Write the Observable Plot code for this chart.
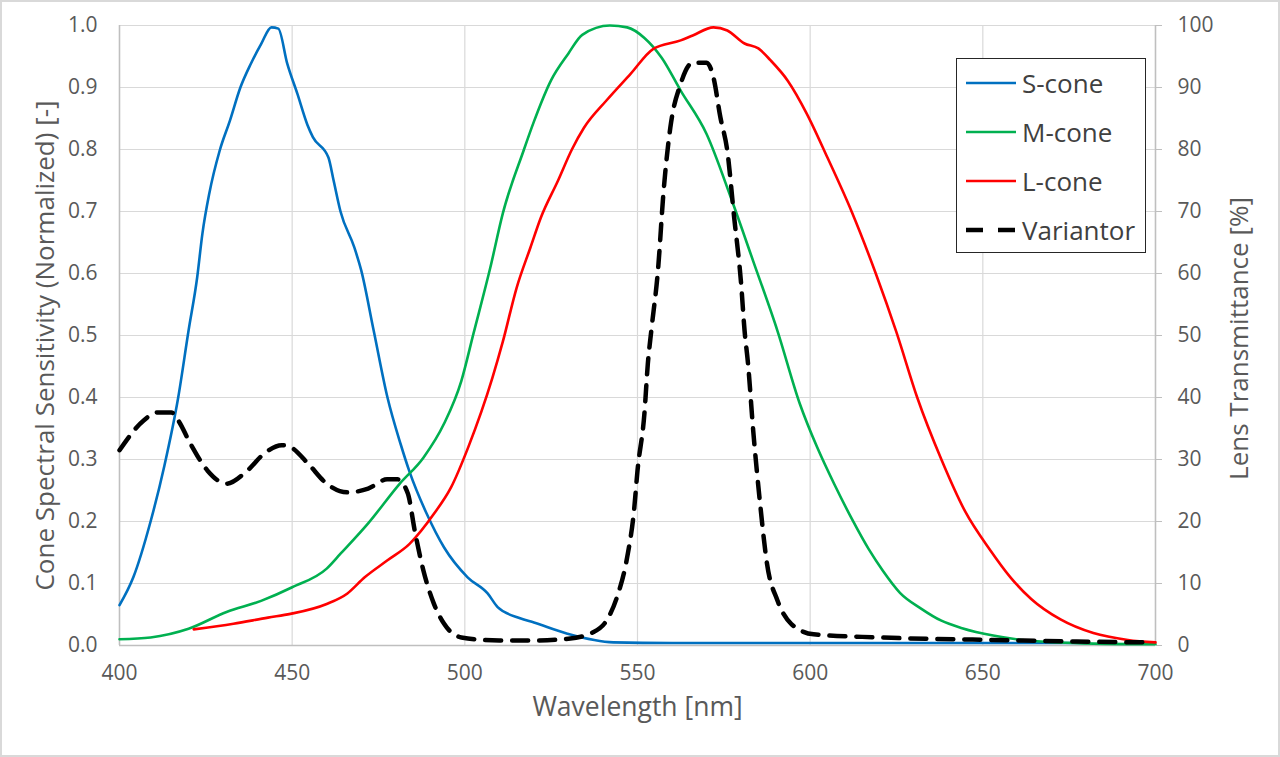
<!DOCTYPE html>
<html>
<head>
<meta charset="utf-8">
<script src="https://cdn.jsdelivr.net/npm/d3@7"></script>
<script src="https://cdn.jsdelivr.net/npm/@observablehq/plot@0.6"></script>
<style>
  html, body { margin: 0; padding: 0; background: #fff; }
  #wrap { position: relative; width: 1280px; height: 757px; overflow: hidden; font-family: "Open Sans", sans-serif; }
  #border { position: absolute; left: 0; top: 0; width: 1280px; height: 757px; box-sizing: border-box; border: 2px solid #d9d9d9; pointer-events: none; }
  #legend { position: absolute; left: 956px; top: 58px; width: 190px; height: 195px; box-sizing: border-box; border: 1.5px solid #262626; background: #fff; }
  .item { position: absolute; left: 8px; height: 30px; display: flex; align-items: center; }
  .item span { font-size: 26px; color: #404040; margin-left: 5px; line-height: 30px; }
</style>
</head>
<body>
<div id="wrap">
  <div id="chart"></div>
  <div id="legend"></div>
  <div id="border"></div>
</div>
<script>
// ---- data ----
const sWl  = [400,404,409,413,417,420,422.5,424,426,429,432,435,438,441,444,446,448.6,451.5,454.4,456,460.5,462,464,468,470,473.6,477.6,481.4,484,489,494,500.8,506.6,509.5,516,520,529.7,543,560,600,640,680];
const sVal = [0.065,0.11,0.20,0.29,0.40,0.508,0.594,0.664,0.729,0.798,0.847,0.90,0.938,0.97,0.997,0.995,0.938,0.89,0.84,0.82,0.787,0.75,0.70,0.642,0.605,0.508,0.40,0.325,0.28,0.212,0.158,0.11,0.084,0.062,0.044,0.037,0.019,0.005,0.004,0.004,0.004,0.004];

const mWl  = [400,409,420,431,441,450,460,464,472,481,488,494,499,502.5,507.4,511,517,520,525,530,534,542,547,552,557,562.5,570,577,583.5,590.5,597,602,607,612,617,621,626,632,638,644,653,663,682,700];
const mVal = [0.01,0.013,0.027,0.054,0.072,0.094,0.124,0.148,0.197,0.26,0.303,0.358,0.427,0.503,0.61,0.697,0.798,0.845,0.912,0.955,0.985,1.0,0.997,0.98,0.948,0.895,0.825,0.723,0.62,0.508,0.39,0.32,0.26,0.205,0.155,0.121,0.085,0.06,0.04,0.028,0.016,0.008,0.003,0.002];

const lWl  = [421.5,433,443,449.5,460,466,471,477.5,484,491,496,501,508,511,515,519,522,527,531,534.5,541,548,554.5,562.5,566,572,576,581,585,588.5,593.5,599,605,612,619,625,631,638,645,652,658,664,672.5,682,692,700];
const lVal = [0.026,0.035,0.045,0.051,0.067,0.084,0.11,0.137,0.164,0.212,0.255,0.32,0.432,0.49,0.577,0.642,0.69,0.75,0.80,0.835,0.879,0.922,0.962,0.976,0.984,0.997,0.992,0.971,0.963,0.944,0.911,0.858,0.787,0.70,0.60,0.505,0.40,0.30,0.215,0.155,0.11,0.075,0.042,0.02,0.009,0.005];

const vWl  = [400,407,411,415,417,420.5,425.5,431,437,442,447,449.5,454.5,460,466,472,477.5,480.5,483.5,485.5,488,491,494,499,510,520,530,537,541,544,547,549,550,552,553,554,556,557.5,559.5,562.5,566,570,572,574,576,578,580,581,582,583.5,585.5,587.5,590.5,594.5,601,620,653,682,698];
const vPct = [31.5,36.3,37.6,37.6,36.3,32.6,28.2,26.1,28.2,31,32.3,32,29.4,26.1,24.7,25.3,26.8,26.8,24.5,18.5,12.1,6.8,3.5,1.3,0.8,0.8,1.1,2.1,4,7.7,14.2,21.8,28.2,37.4,45.5,50.8,61,72.9,83.5,90.6,94,94,91.6,85.2,79.8,69,58.4,50.8,45.5,34.7,22.9,13.2,7.3,3.5,1.8,1.3,0.9,0.6,0.5];

const xTicks = [400,450,500,550,600,650,700];
const yTicks = [0,0.1,0.2,0.3,0.4,0.5,0.6,0.7,0.8,0.9,1.0];
const rightTicks = [0,10,20,30,40,50,60,70,80,90,100];

const seriesNames = ["S-cone","M-cone","L-cone","Variantor"];
const seriesColors = ["#0070C0","#00B050","#FF0000","#000000"];

const xTitle = "Wavelength [nm]";
const yTitle = "Cone Spectral Sensitivity (Normalized) [-]";
const y2Title = "Lens Transmittance [%]";

// ---- tables ----
const S = sWl.map((w,i)=>({w, v:sVal[i]}));
const M = mWl.map((w,i)=>({w, v:mVal[i]}));
const L = lWl.map((w,i)=>({w, v:lVal[i]}));
const V = vWl.map((w,i)=>({w, p:vPct[i]}));

const grid = "#d9d9d9";
const dash = "16,11";

const chart = Plot.plot({
  width: 1280,
  height: 757,
  marginLeft: 119,
  marginRight: 125,
  marginTop: 25,
  marginBottom: 112,
  style: { fontFamily: "Open Sans, sans-serif", color: "#595959", background: "transparent", overflow: "visible" },
  x: { domain: [400, 700] },
  y: { domain: [0, 1] },
  marks: [
    Plot.gridX(xTicks, { stroke: grid, strokeOpacity: 1, strokeWidth: 1.2 }),
    Plot.gridY(yTicks, { stroke: grid, strokeOpacity: 1, strokeWidth: 1.2 }),
    Plot.ruleY([0], { stroke: "#bfbfbf", strokeWidth: 1.5 }),
    Plot.ruleX([400], { stroke: "#bfbfbf", strokeWidth: 1.5 }),
    Plot.ruleX([700], { stroke: "#bfbfbf", strokeWidth: 1.5 }),
    Plot.axisX(xTicks, { tickSize: 0, tickPadding: 20, fontSize: 21, label: null, tickFormat: d => String(d) }),
    Plot.axisY(yTicks, { anchor: "left", tickSize: 0, tickPadding: 22, fontSize: 21, label: null, tickFormat: d3.format(".1f") }),
    Plot.axisY(rightTicks.map(t => t / 100), { anchor: "right", tickSize: 6, tickPadding: 16, fontSize: 21, label: null, stroke: "#bfbfbf", textStroke: null, tickFormat: d => String(Math.round(d * 100)) }),
    Plot.text([xTitle], { frameAnchor: "bottom", dy: 70, fontSize: 26.5, fill: "#595959" }),
    Plot.text([yTitle], { frameAnchor: "left", textAnchor: "middle", rotate: -90, dx: -74, dy: 10, fontSize: 26, fill: "#595959" }),
    Plot.text([y2Title], { frameAnchor: "right", textAnchor: "middle", rotate: -90, dx: 84, dy: 3, fontSize: 26, fill: "#595959" }),
    Plot.line(S, { x: "w", y: "v", stroke: seriesColors[0], strokeWidth: 2.6, curve: "monotone-x" }),
    Plot.line(M, { x: "w", y: "v", stroke: seriesColors[1], strokeWidth: 2.6, curve: "monotone-x" }),
    Plot.line(L, { x: "w", y: "v", stroke: seriesColors[2], strokeWidth: 2.6, curve: "monotone-x" }),
    Plot.line(V, { x: "w", y: d => d.p / 100, stroke: seriesColors[3], strokeWidth: 4.5, strokeDasharray: dash, curve: "monotone-x" })
  ]
});
document.getElementById("chart").appendChild(chart);

// ---- legend ----
const legend = document.getElementById("legend");
const rowsY = [9, 58, 107, 156];
seriesNames.forEach((name, i) => {
  const div = document.createElement("div");
  div.className = "item";
  div.style.top = rowsY[i] + "px";
  const isDash = i === 3;
  div.innerHTML = `<svg width="52" height="10"><line x1="1" x2="51" y1="5" y2="5" stroke="${seriesColors[i]}" stroke-width="${isDash ? 4.5 : 2.6}" ${isDash ? 'stroke-dasharray="17,15"' : ''}/></svg><span>${name}</span>`;
  legend.appendChild(div);
});
</script>
</body>
</html>
